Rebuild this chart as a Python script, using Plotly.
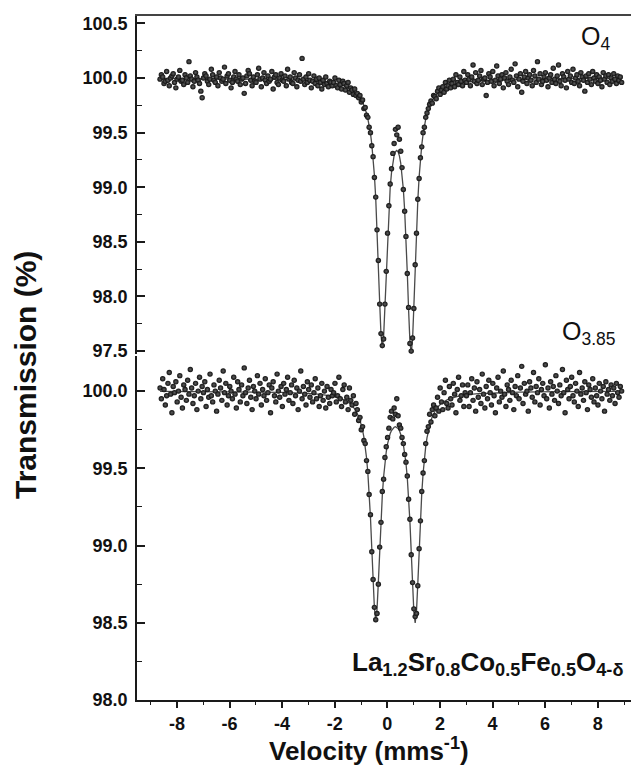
import numpy as np
import plotly.graph_objects as go

# Mössbauer spectra of La1.2Sr0.8Co0.5Fe0.5O4-δ: measured channels and fitted envelope
V_STEP = 0.05
V_LEFT0, V_DIP0, V_RIGHT0 = -8.64, -2.04, 3.01

# ---------- O4 sample (upper panel), transmission in % ----------
TOP_LEFT = [
    99.99, 100.03, 100.01, 99.95, 99.97, 100.06, 99.98, 99.93, 100.00, 100.02,
    100.04, 99.96, 99.91, 99.99, 100.01, 100.07, 99.97, 99.98, 99.94, 100.03,
    100.00, 99.96, 100.15, 100.02, 99.99, 99.92, 99.97, 100.05, 100.01, 99.98,
    99.95, 99.88, 99.82, 100.00, 100.04, 100.02, 99.97, 99.94, 99.99, 100.08,
    100.03, 99.98, 99.96, 100.01, 99.93, 100.05, 100.00, 99.97, 99.99, 100.10,
    99.95, 100.02, 100.04, 99.98, 99.91, 99.96, 100.01, 100.06, 99.99, 99.97,
    100.03, 99.94, 99.99, 100.00, 99.86, 99.95, 100.02, 100.07, 100.04, 99.98,
    99.93, 100.01, 99.97, 99.96, 100.03, 100.09, 99.99, 99.92, 100.00, 100.05,
    99.98, 99.95, 100.02, 99.97, 99.99, 100.06, 99.90, 100.01, 100.03, 99.96,
    99.94, 100.00, 100.04, 99.98, 99.97, 100.02, 99.93, 100.08, 99.99, 100.01,
    99.96, 99.95, 100.05, 100.00, 99.92, 99.98, 100.03, 99.97, 100.18, 99.99,
    99.94, 100.01, 99.96, 100.04, 99.98, 99.91, 99.97, 100.02, 99.95, 99.99,
    99.93, 100.00, 99.96, 99.90, 99.98, 99.94, 100.01, 99.95, 99.92, 99.97,
    99.96, 99.93,
]
TOP_DIP = [
    99.96, 100.00, 99.93, 99.91, 99.98, 99.94, 99.90, 99.97, 99.95, 99.89,
    99.93, 99.96, 99.87, 99.91, 99.89, 99.85, 99.90, 99.84, 99.86, 99.82,
    99.84, 99.78, 99.80, 99.72, 99.73, 99.66, 99.64, 99.55, 99.50, 99.38,
    99.28, 99.09, 98.91, 98.61, 98.33, 97.93, 97.66, 97.55, 97.61, 97.93,
    98.23, 98.58, 98.83, 99.03, 99.17, 99.31, 99.40, 99.53, 99.48, 99.55,
    99.44, 99.33, 99.18, 98.98, 98.78, 98.55, 98.21, 97.90, 97.57, 97.50,
    97.62, 97.89, 98.29, 98.58, 98.89, 99.08, 99.27, 99.37, 99.50, 99.55,
    99.64, 99.68, 99.72, 99.76, 99.79, 99.77, 99.84, 99.83, 99.81, 99.88,
    99.91, 99.85, 99.89, 99.92, 99.87, 99.96, 99.90, 99.93, 99.98, 99.91,
    99.95, 99.99, 99.92, 100.03, 99.96, 99.94, 100.01, 99.97, 99.93, 100.06,
    99.98,
]
TOP_RIGHT = [
    99.96, 100.03, 99.99, 99.93, 100.01, 100.12, 99.97, 100.05, 99.95, 99.98,
    100.02, 100.07, 99.94, 99.99, 100.00, 99.84, 99.96, 100.04, 100.01, 99.97,
    100.06, 99.93, 99.98, 100.11, 100.02, 99.95, 99.99, 100.03, 99.91, 100.00,
    100.05, 99.97, 99.94, 100.01, 100.08, 99.98, 99.96, 100.13, 100.02, 99.92,
    99.99, 100.04, 99.87, 99.97, 100.01, 100.06, 99.95, 100.00, 100.03, 99.98,
    99.93, 100.07, 100.02, 99.96, 100.15, 99.99, 100.04, 99.94, 99.97, 100.01,
    100.05, 99.98, 99.92, 100.00, 100.03, 99.96, 100.09, 99.99, 99.95, 100.02,
    100.12, 99.97, 99.93, 100.04, 100.01, 99.98, 99.91, 100.06, 99.99, 100.02,
    99.96, 100.08, 99.95, 100.00, 100.03, 99.97, 99.93, 100.05, 100.01, 99.98,
    99.88, 100.02, 99.96, 100.04, 99.99, 99.94, 100.06, 100.00, 99.97, 100.03,
    99.95, 100.01, 99.98, 99.92, 100.05, 99.99, 100.02, 99.96, 100.03, 99.94,
    100.00, 99.97, 100.04, 99.99, 99.95, 100.02, 99.98, 100.01, 99.96,
]

# ---------- O3.85 sample (lower panel) ----------
BOT_LEFT = [
    100.02, 99.95, 100.08, 100.01, 99.91, 99.97, 100.05, 100.12, 99.98, 99.86,
    100.03, 99.99, 100.06, 99.93, 100.00, 100.10, 99.96, 99.89, 100.04, 100.01,
    99.94, 100.07, 99.98, 100.14, 100.02, 99.92, 99.97, 100.05, 99.88, 100.00,
    100.09, 99.95, 100.03, 99.99, 100.06, 99.90, 100.01, 99.96, 100.11, 99.97,
    99.93, 100.04, 100.00, 99.87, 99.98, 100.07, 100.02, 99.94, 100.13, 99.99,
    100.05, 99.91, 99.97, 100.03, 100.00, 99.95, 100.09, 99.98, 99.89, 100.06,
    100.01, 99.93, 100.04, 99.97, 100.15, 99.99, 99.92, 100.02, 100.07, 99.96,
    99.88, 100.03, 100.00, 99.95, 100.10, 99.98, 100.05, 99.91, 100.01, 99.97,
    100.08, 99.94, 99.99, 100.04, 99.86, 100.02, 100.06, 99.97, 99.93, 100.11,
    100.00, 99.96, 100.03, 99.90, 100.05, 99.98, 100.01, 100.09, 99.94, 99.99,
    100.04, 99.92, 100.07, 99.97, 100.02, 99.88, 100.00, 100.13, 99.95, 100.03,
    99.98, 99.91, 100.06, 100.01, 99.96, 100.04, 99.93, 99.99, 100.08, 99.95,
    100.02, 99.90, 99.97, 100.05, 99.94, 100.00, 99.89, 100.03, 99.96, 99.92,
    100.01, 99.97,
]
BOT_DIP = [
    99.99, 100.05, 99.93, 99.97, 100.09, 99.95, 99.90, 100.01, 100.04, 99.93,
    99.96, 99.88, 100.02, 99.94, 99.91, 99.97, 99.85, 99.92, 99.88, 99.81,
    99.83, 99.75, 99.77, 99.68, 99.66, 99.55, 99.48, 99.33, 99.20, 98.96,
    98.78, 98.60, 98.52, 98.56, 98.75, 98.99, 99.15, 99.35, 99.43, 99.57,
    99.64, 99.70, 99.76, 99.83, 99.87, 99.82, 99.89, 99.85, 99.95, 99.84,
    99.78, 99.76, 99.70, 99.66, 99.59, 99.54, 99.45, 99.30, 99.17, 98.94,
    98.76, 98.59, 98.54, 98.56, 98.74, 98.98, 99.16, 99.35, 99.47, 99.55,
    99.66, 99.74, 99.77, 99.85, 99.80, 99.88, 99.91, 99.84, 99.89, 99.96,
    99.87, 100.02, 99.93, 99.88, 99.99, 100.07, 99.92, 99.89, 100.03, 99.95,
    99.91, 100.05, 99.98, 99.86, 100.01, 100.09, 99.94, 99.97, 100.04, 99.90,
    99.99,
]
BOT_RIGHT = [
    99.97, 100.04, 99.90, 99.99, 100.08, 99.94, 100.02, 99.87, 100.06, 99.96,
    100.01, 99.92, 100.11, 99.98, 99.89, 100.03, 99.95, 100.07, 99.99, 99.91,
    100.05, 99.97, 99.86, 100.02, 100.09, 99.93, 100.00, 99.96, 100.13, 99.98,
    99.90, 100.04, 100.01, 99.94, 100.07, 99.99, 99.88, 100.03, 99.97, 100.10,
    99.95, 100.02, 100.16, 99.92, 100.05, 99.98, 100.00, 99.87, 100.06, 100.02,
    99.96, 100.12, 99.93, 100.03, 99.99, 100.08, 99.91, 100.01, 100.05, 99.97,
    100.17, 99.95, 100.02, 99.89, 100.06, 99.98, 100.03, 99.94, 100.10, 100.00,
    99.92, 100.04, 99.97, 100.14, 99.99, 99.86, 100.07, 100.01, 99.95, 100.03,
    100.09, 99.97, 99.93, 100.05, 100.00, 99.90, 100.12, 99.98, 100.02, 99.94,
    100.06, 99.99, 99.88, 100.04, 100.01, 99.96, 100.08, 99.93, 100.02, 99.97,
    99.91, 100.05, 100.00, 99.95, 100.03, 99.87, 100.06, 99.98, 100.01, 99.94,
    100.04, 99.97, 100.02, 99.92, 100.05, 99.99, 99.96, 100.03, 100.00,
]

# ---------- fitted doublet envelopes ----------
FIT_V = [-8.64, -6.04, -4.04, -3.04, -2.54] + [
    -2.04, -1.99, -1.94, -1.89, -1.84, -1.79, -1.74, -1.69, -1.64, -1.59,
    -1.54, -1.49, -1.44, -1.39, -1.34, -1.29, -1.24, -1.19, -1.14, -1.09,
    -1.04, -0.99, -0.94, -0.89, -0.84, -0.79, -0.74, -0.69, -0.64, -0.59,
    -0.54, -0.49, -0.44, -0.39, -0.34, -0.29, -0.24, -0.19, -0.14, -0.09,
    -0.04, 0.01, 0.06, 0.11, 0.16, 0.21, 0.26, 0.31, 0.36, 0.41,
    0.46, 0.51, 0.56, 0.61, 0.66, 0.71, 0.76, 0.81, 0.86, 0.91,
    0.96, 1.01, 1.06, 1.11, 1.16, 1.21, 1.26, 1.31, 1.36, 1.41,
    1.46, 1.51, 1.56, 1.61, 1.66, 1.71, 1.76, 1.81, 1.86, 1.91,
    1.96, 2.01, 2.06, 2.11, 2.16, 2.21, 2.26, 2.31, 2.36, 2.41,
    2.46, 2.51, 2.56, 2.61, 2.66, 2.71, 2.76, 2.81, 2.86, 2.91,
    2.96,
] + [3.46, 4.01, 5.01, 6.51, 8.91]

FIT_TOP = [99.997, 99.994, 99.987, 99.978, 99.970] + [
    99.953, 99.951, 99.949, 99.946, 99.943, 99.940, 99.936, 99.933, 99.928, 99.924,
    99.919, 99.914, 99.908, 99.901, 99.893, 99.884, 99.875, 99.864, 99.851, 99.837,
    99.820, 99.801, 99.778, 99.750, 99.717, 99.678, 99.629, 99.569, 99.493, 99.396,
    99.271, 99.109, 98.899, 98.629, 98.302, 97.949, 97.651, 97.526, 97.635, 97.915,
    98.252, 98.560, 98.809, 98.997, 99.134, 99.229, 99.291, 99.326, 99.337, 99.324,
    99.287, 99.222, 99.123, 98.983, 98.790, 98.535, 98.220, 97.876, 97.589, 97.478,
    97.605, 97.909, 98.270, 98.603, 98.878, 99.093, 99.258, 99.386, 99.484, 99.562,
    99.623, 99.673, 99.713, 99.747, 99.774, 99.798, 99.817, 99.834, 99.849, 99.862,
    99.873, 99.883, 99.892, 99.899, 99.906, 99.913, 99.918, 99.923, 99.928, 99.932,
    99.936, 99.939, 99.943, 99.945, 99.948, 99.951, 99.953, 99.955, 99.957, 99.959,
    99.961,
] + [99.973, 99.981, 99.989, 99.994, 99.997]

FIT_BOT = [99.998, 99.996, 99.992, 99.985, 99.979] + [
    99.966, 99.964, 99.962, 99.959, 99.957, 99.954, 99.951, 99.947, 99.943, 99.939,
    99.934, 99.928, 99.922, 99.914, 99.906, 99.896, 99.885, 99.871, 99.855, 99.836,
    99.812, 99.783, 99.747, 99.702, 99.644, 99.569, 99.471, 99.344, 99.182, 98.984,
    98.771, 98.592, 98.519, 98.588, 98.763, 98.972, 99.165, 99.323, 99.445, 99.538,
    99.607, 99.658, 99.697, 99.725, 99.745, 99.759, 99.766, 99.769, 99.766, 99.758,
    99.744, 99.724, 99.695, 99.655, 99.603, 99.533, 99.439, 99.315, 99.155, 98.959,
    98.747, 98.570, 98.499, 98.574, 98.755, 98.971, 99.171, 99.336, 99.465, 99.564,
    99.640, 99.698, 99.744, 99.781, 99.810, 99.834, 99.853, 99.870, 99.884, 99.895,
    99.905, 99.914, 99.921, 99.927, 99.933, 99.938, 99.943, 99.947, 99.950, 99.953,
    99.956, 99.959, 99.961, 99.964, 99.965, 99.967, 99.969, 99.971, 99.972, 99.973,
    99.975,
] + [99.983, 99.988, 99.993, 99.996, 99.998]

X_TICKS = [-8, -6, -4, -2, 0, 2, 4, 6, 8]
X_MINOR = [-9, -7, -5, -3, -1, 1, 3, 5, 7, 9]
TOP_TICKS = [97.5, 98.0, 98.5, 99.0, 99.5, 100.0, 100.5]
TOP_MINOR = [97.75, 98.25, 98.75, 99.25, 99.75, 100.25]
BOT_TICKS = [98.0, 98.5, 99.0, 99.5, 100.0]
BOT_MINOR = [98.25, 98.75, 99.25, 99.75]


def channels(start, n):
    return np.round(start + V_STEP * np.arange(n), 2)


def velocities(left, dip, right):
    return np.concatenate([channels(V_LEFT0, len(left)),
                           channels(V_DIP0, len(dip)),
                           channels(V_RIGHT0, len(right))])


FONT = "Liberation Sans, Arial, sans-serif"
AX = "#1a1a1a"

marker = dict(size=5.4, color="#0e0e0e",
              gradient=dict(type="radial", color="#5e5e5e"),
              line=dict(width=0))
fit_line = dict(color="#4a4a4a", width=1.3)

fig = go.Figure()
# upper panel
fig.add_trace(go.Scatter(x=FIT_V, y=FIT_TOP, mode="lines", line=fit_line,
                         xaxis="x2", yaxis="y2", hoverinfo="skip"))
fig.add_trace(go.Scatter(x=velocities(TOP_LEFT, TOP_DIP, TOP_RIGHT),
                         y=TOP_LEFT + TOP_DIP + TOP_RIGHT, mode="markers",
                         marker=marker, xaxis="x2", yaxis="y2"))
# lower panel
fig.add_trace(go.Scatter(x=FIT_V, y=FIT_BOT, mode="lines", line=fit_line,
                         xaxis="x", yaxis="y", hoverinfo="skip"))
fig.add_trace(go.Scatter(x=velocities(BOT_LEFT, BOT_DIP, BOT_RIGHT),
                         y=BOT_LEFT + BOT_DIP + BOT_RIGHT, mode="markers",
                         marker=marker, xaxis="x", yaxis="y"))

tick_font = dict(family=FONT, size=18, color="#111", weight="bold")
X_RANGE = [-9.517, 9.266]

yaxis_common = dict(
    showline=True, linecolor=AX, linewidth=1.6, ticks="inside", ticklen=8,
    tickwidth=1.5, tickcolor=AX, tickfont=tick_font, showgrid=False,
    zeroline=False, ticklabelstandoff=4,
)

fig.update_layout(
    width=632, height=766,
    margin=dict(l=137, r=1, t=16, b=66),
    paper_bgcolor="white", plot_bgcolor="white",
    showlegend=False,
    xaxis=dict(
        domain=[0, 1], anchor="y", range=X_RANGE,
        tickvals=X_TICKS, ticktext=[str(v) for v in X_TICKS],
        ticks="outside", ticklen=6.5, tickwidth=1.5, tickcolor=AX,
        minor=dict(tickvals=X_MINOR, ticks="outside", ticklen=3.5,
                   tickwidth=1.3, tickcolor=AX),
        showline=True, linecolor=AX, linewidth=1.6,
        tickfont=tick_font, showgrid=False, zeroline=False,
    ),
    xaxis2=dict(
        domain=[0, 1], anchor="y2", range=X_RANGE, matches="x",
        side="top", showline=True, linecolor="#444", linewidth=2,
        ticks="", showticklabels=False, showgrid=False, zeroline=False,
    ),
    yaxis=dict(
        domain=[0, 0.5029], anchor="x", range=[98.0, 100.227],
        tickvals=BOT_TICKS, ticktext=[f"{v:.1f}" for v in BOT_TICKS],
        minor=dict(tickvals=BOT_MINOR, ticks="inside", ticklen=5,
                   tickwidth=1.3, tickcolor=AX),
        **yaxis_common,
    ),
    yaxis2=dict(
        domain=[0.5058, 1], anchor="x2", range=[97.473, 100.568],
        tickvals=TOP_TICKS, ticktext=[f"{v:.1f}" for v in TOP_TICKS],
        minor=dict(tickvals=TOP_MINOR, ticks="inside", ticklen=5,
                   tickwidth=1.3, tickcolor=AX),
        **yaxis_common,
    ),
)

annotations = [
    dict(text="Transmission (%)", x=-0.2267, y=0.4751, textangle=-90,
         font=dict(family=FONT, size=30, color="#111", weight="bold")),
    dict(text="Velocity (mms<sup>-1</sup>)", x=0.4696, y=-0.073,
         font=dict(family=FONT, size=26, color="#111", weight="bold")),
    dict(text="O<sub>4</sub>", x=0.9615, y=0.968, xanchor="right",
         font=dict(family=FONT, size=25, color="#111")),
    dict(text="O<sub>3.85</sub>", x=0.9737, y=0.537, xanchor="right",
         font=dict(family=FONT, size=25, color="#111")),
    dict(text="La<sub>1.2</sub>Sr<sub>0.8</sub>Co<sub>0.5</sub>Fe<sub>0.5</sub>O<sub>4-δ</sub>",
         x=0.9879, y=0.054, xanchor="right",
         font=dict(family=FONT, size=26, color="#111", weight="bold")),
]
for a in annotations:
    a.setdefault("xanchor", "center")
    fig.add_annotation(xref="paper", yref="paper", yanchor="middle",
                       showarrow=False, **a)

fig.write_html("out.html")
